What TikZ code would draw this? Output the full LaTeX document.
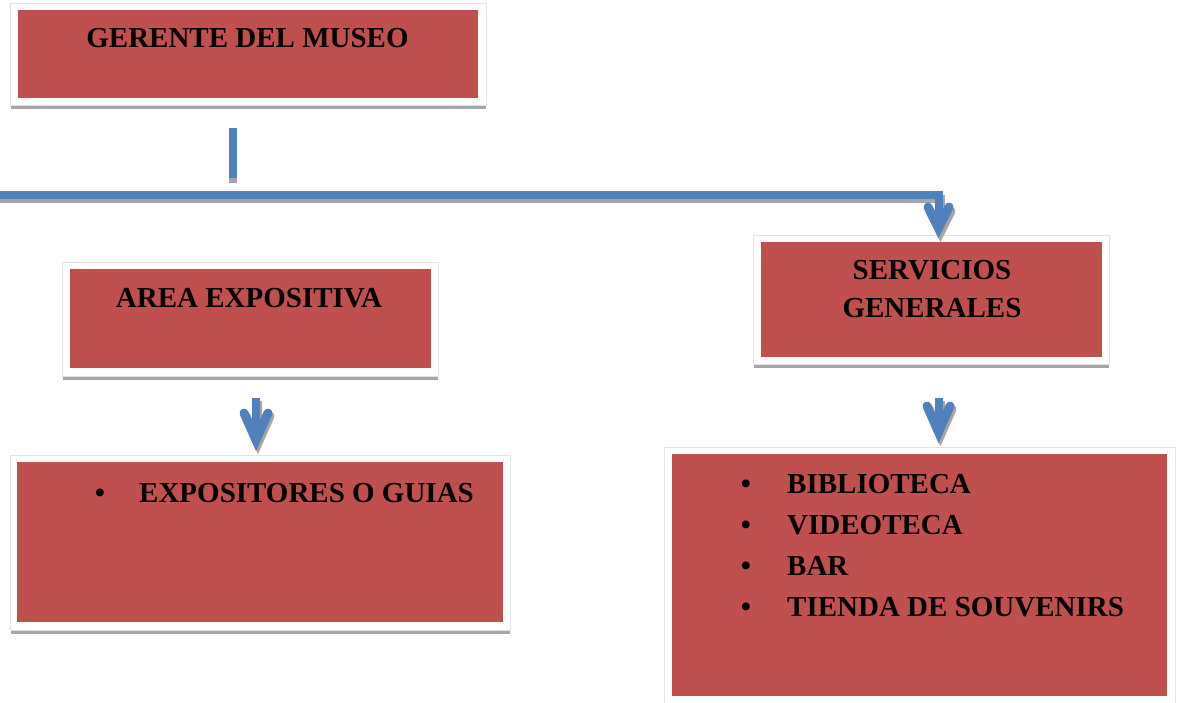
\documentclass[tikz,border=0pt]{standalone}
\usepackage{fontspec}
\setmainfont{Liberation Serif}
\definecolor{boxred}{HTML}{C0504D}
\definecolor{lineblue}{HTML}{4F81BD}
\definecolor{shade}{HTML}{A5A5A5}
\definecolor{framegray}{HTML}{E3E3E3}
\begin{document}
\begin{tikzpicture}[x=1pt,y=-1pt,
  redbox/.style={fill=boxred, inner sep=0pt, outer sep=0pt, anchor=north west},
  framebox/.style={fill=white, draw=framegray, line width=0.6pt},
  shadowbox/.style={fill=shade},
  txt/.style={font=\fontsize{29}{38}\selectfont\bfseries, inner sep=0pt, text=black},
  conn/.style={draw=lineblue, line width=8pt},
  connshadow/.style={draw=shade, line width=8pt},
  head/.style={line width=9pt, line cap=round, line join=miter},
]
\useasboundingbox (0,0) rectangle (1184,703);

% ---------- boxes ----------
% Gerente
\fill[shadowbox] (11,8) rectangle (486,109);
\draw[framebox] (10,3) rectangle (486,105);
\node[redbox, minimum width=460pt, minimum height=88pt] (gerente) at (18,10) {};
\node[txt, anchor=base] (gerenteT) at (247.5,48) {GERENTE DEL MUSEO};

% Area expositiva
\fill[shadowbox] (63,266) rectangle (438,380);
\draw[framebox] (62,262) rectangle (438,376);
\node[redbox, minimum width=361pt, minimum height=99pt] (area) at (70,269) {};
\node[txt, anchor=base] (areaT) at (249,308) {AREA EXPOSITIVA};

% Servicios generales
\fill[shadowbox] (754,239) rectangle (1109,368);
\draw[framebox] (753,235) rectangle (1109,364);
\node[redbox, minimum width=341pt, minimum height=115pt] (serv) at (761,242) {};
\node[txt, anchor=base] (servT1) at (932,280) {SERVICIOS};
\node[txt, anchor=base] (servT2) at (932,318) {GENERALES};

% Expositores
\fill[shadowbox] (11,459) rectangle (510,634);
\draw[framebox] (10,455) rectangle (510,630);
\node[redbox, minimum width=486pt, minimum height=160pt] (expo) at (17,462) {};
\node[txt, anchor=base] (expoB) at (100,502) {\textbullet};
\node[txt, anchor=base west] (expoT) at (139,502) {EXPOSITORES O GUIAS};

% Lista
\fill[shadowbox] (665,451) rectangle (1175,710);
\draw[framebox] (664,447) rectangle (1175,706);
\node[redbox, minimum width=495pt, minimum height=242pt] (lista) at (672,454) {};
\node[txt, anchor=base] (lB1) at (746,493) {\textbullet};
\node[txt, anchor=base west] (lT1) at (787,493) {BIBLIOTECA};
\node[txt, anchor=base] (lB2) at (746,534) {\textbullet};
\node[txt, anchor=base west] (lT2) at (787,534) {VIDEOTECA};
\node[txt, anchor=base] (lB3) at (746,575) {\textbullet};
\node[txt, anchor=base west] (lT3) at (787,575) {BAR};
\node[txt, anchor=base] (lB4) at (746,616) {\textbullet};
\node[txt, anchor=base west] (lT4) at (787,616) {TIENDA DE SOUVENIRS};

% ---------- connectors ----------
\coordinate (vtop) at (233,128);
\coordinate (vbot) at (233,178);
\coordinate (hl) at (-6,194.7);
\coordinate (hc) at (938.5,194.7);
\coordinate (t1) at (938.5,228);
\coordinate (a1l) at (928,207);
\coordinate (a1r) at (949,207);

\coordinate (a2top) at (256,398);
\coordinate (t2) at (256,440);
\coordinate (a2l) at (244,413);
\coordinate (a2r) at (268,413);

\coordinate (a3top) at (938.5,398);
\coordinate (t3) at (938.5,432);
\coordinate (a3l) at (927,406);
\coordinate (a3r) at (950,406);

% shadows
\begin{scope}[transform canvas={yshift=-5pt}]
  \draw[connshadow] (vtop) -- (vbot);
\end{scope}
\begin{scope}[transform canvas={xshift=2pt,yshift=-4pt}]
  \draw[connshadow, line join=miter] (hl) -- (hc) -- (t1);
  \draw[connshadow, head] (a1l) -- (t1) -- (a1r);
\end{scope}
\begin{scope}[transform canvas={xshift=2pt,yshift=-3pt}]
  \draw[connshadow] (a2top) -- (t2);
  \draw[connshadow, head] (a2l) -- (t2) -- (a2r);
  \draw[connshadow] (a3top) -- (t3);
  \draw[connshadow, head] (a3l) -- (t3) -- (a3r);
\end{scope}

% blue connectors
\draw[conn] (vtop) -- (vbot);
\draw[conn, line join=miter] (hl) -- (hc) -- (t1);
\draw[conn, head] (a1l) -- (t1) -- (a1r);
\draw[conn] (a2top) -- (t2);
\draw[conn, head] (a2l) -- (t2) -- (a2r);
\draw[conn] (a3top) -- (t3);
\draw[conn, head] (a3l) -- (t3) -- (a3r);
\end{tikzpicture}
\end{document}
